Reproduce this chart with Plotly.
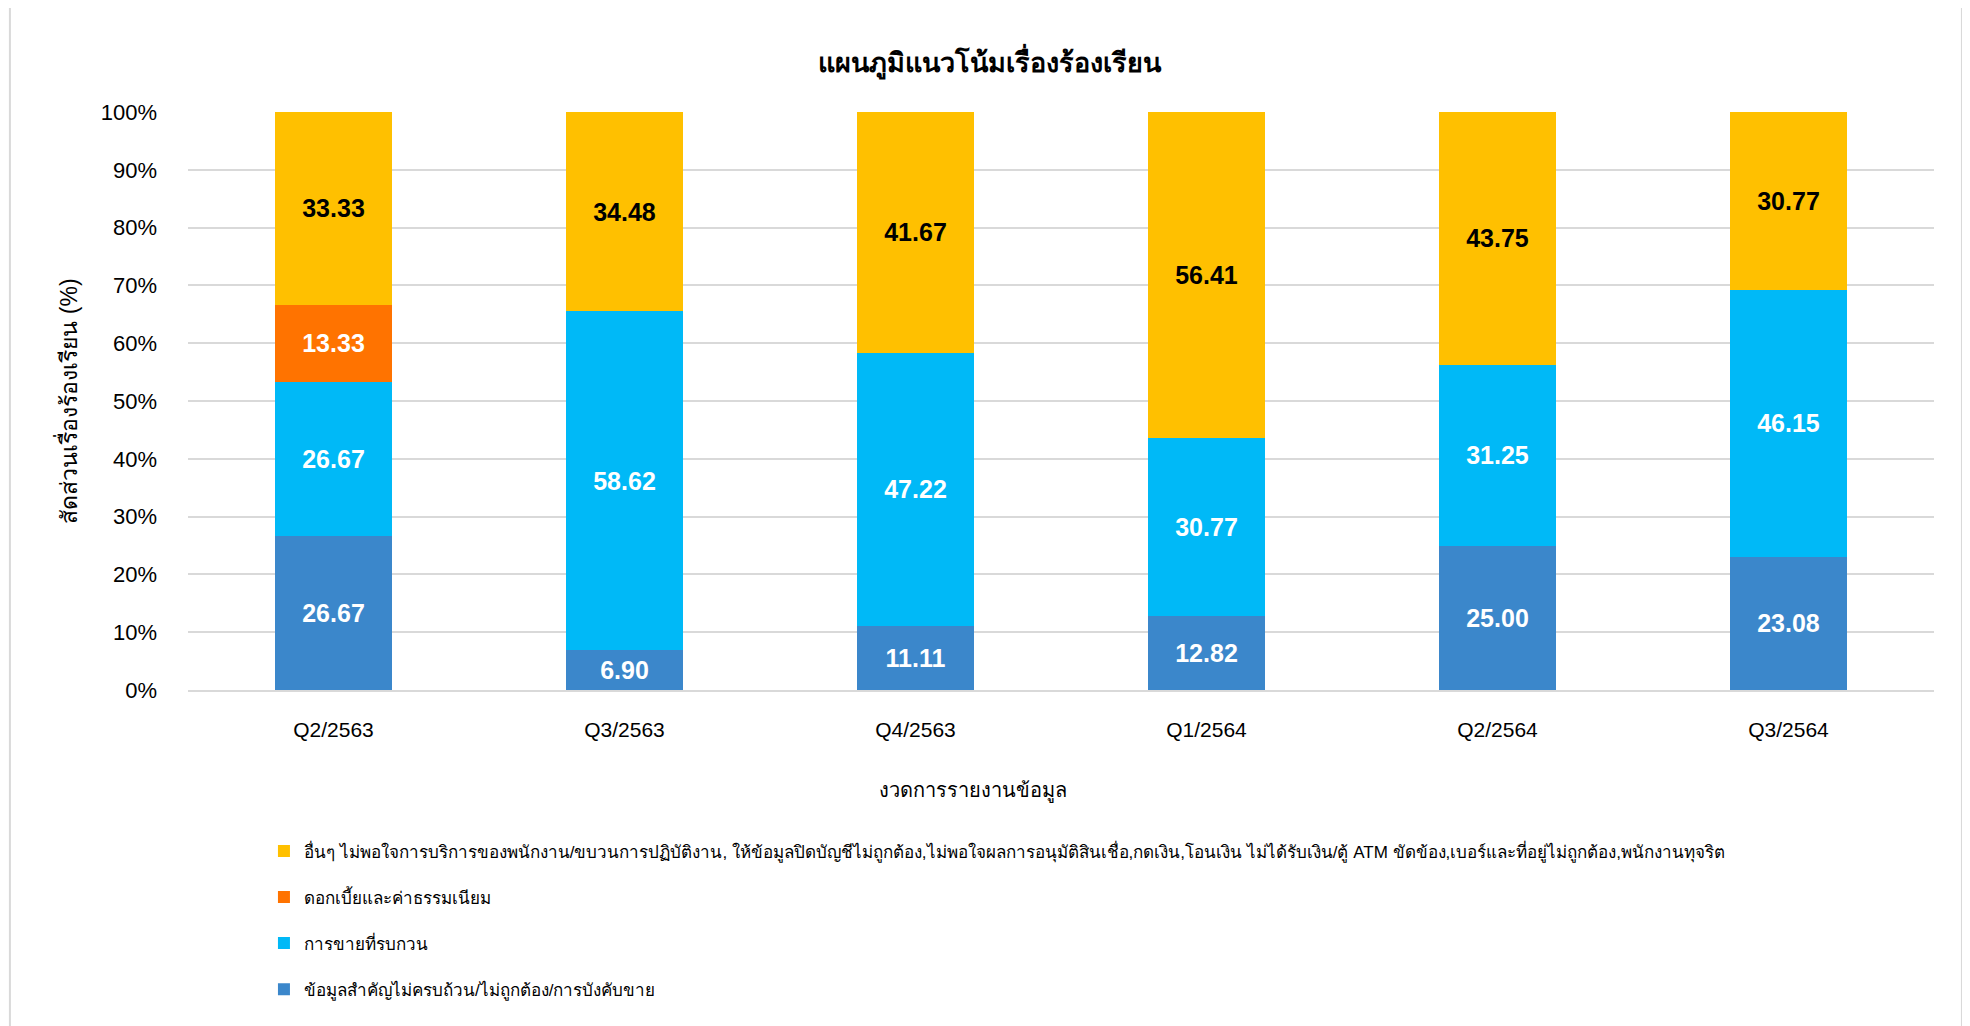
import plotly.graph_objects as go

# periods on the x axis
quarters = ["Q2/2563", "Q3/2563", "Q4/2563", "Q1/2564", "Q2/2564", "Q3/2564"]

# share of complaints (%) per category, bottom to top of each stack
info_missing = [26.67, 6.90, 11.11, 12.82, 25.00, 23.08]
disturbing_sales = [26.67, 58.62, 47.22, 30.77, 31.25, 46.15]
interest_fees = [13.33, None, None, None, None, None]
others = [33.33, 34.48, 41.67, 56.41, 43.75, 30.77]

names = [
    "ข้อมูลสำคัญไม่ครบถ้วน/ไม่ถูกต้อง/การบังคับขาย",
    "การขายที่รบกวน",
    "ดอกเบี้ยและค่าธรรมเนียม",
    "อื่นๆ ไม่พอใจการบริการของพนักงาน/ขบวนการปฏิบัติงาน, ให้ข้อมูลปิดบัญชีไม่ถูกต้อง,ไม่พอใจผลการอนุมัติสินเชื่อ,กดเงิน,โอนเงิน ไม่ได้รับเงิน/ตู้ ATM ขัดข้อง,เบอร์และที่อยู่ไม่ถูกต้อง,พนักงานทุจริต",
]
series = [info_missing, disturbing_sales, interest_fees, others]
colors = ["#3B87CB", "#00B9F7", "#FF7300", "#FFC000"]
label_colors = ["white", "white", "white", "black"]

FONT = "Liberation Sans, Noto Sans, sans-serif"

fig = go.Figure()
for i, (name, vals, col, lcol) in enumerate(zip(names, series, colors, label_colors)):
    fig.add_trace(go.Bar(
        name=name,
        x=quarters,
        y=vals,
        marker=dict(color=col, line=dict(width=0)),
        texttemplate="<b>%{y:.2f}</b>",
        textposition="inside",
        insidetextanchor="middle",
        constraintext="none",
        textfont=dict(size=25, color=lcol, family=FONT),
        legendgroup=name,
        legendrank=len(names) - i,  # top of the stack first in the legend
    ))

# the page body has an 8px margin, so the figure is 8px smaller than the window
fig.update_layout(
    barmode="stack",
    bargap=0.598,
    width=1962,
    height=1018,
    plot_bgcolor="white",
    paper_bgcolor="white",
    font=dict(family=FONT, color="black"),
    title=dict(
        text="<b>แผนภูมิแนวโน้มเรื่องร้องเรียน</b>",
        x=0.5, xanchor="center",
        y=1 - 55 / 1018, yanchor="middle",
        font=dict(size=27, color="black"),
    ),
    margin=dict(l=180, r=36, t=104, b=336),
    legend=dict(
        x=0.0435, xanchor="left",
        y=-0.248, yanchor="top",
        traceorder="grouped",
        font=dict(size=17),
        tracegroupgap=21,
        itemwidth=30,
    ),
    showlegend=True,
)

fig.update_yaxes(
    range=[0, 100],
    dtick=10,
    ticksuffix="%",
    showgrid=True,
    gridcolor="#D9D9D9",
    gridwidth=2,
    zeroline=False,
    tickfont=dict(size=22),
    ticklabelstandoff=30,
    title=dict(text="สัดส่วนเรื่องร้องเรียน (%)", font=dict(size=23), standoff=16),
)
fig.update_xaxes(
    showline=True,
    linecolor="#D9D9D9",
    linewidth=2,
    tickfont=dict(size=21),
    ticklabelstandoff=20,
)

# x axis title sits a little left of the plot centre, like in the original
fig.add_annotation(
    text="งวดการรายงานข้อมูล",
    xref="paper", yref="paper",
    x=0.4497, y=-0.175,
    xanchor="center", yanchor="middle",
    showarrow=False,
    font=dict(size=20),
)

# outer frame of the chart area
fig.add_shape(
    type="rect", xref="paper", yref="paper",
    x0=-0.102, x1=1.016, y0=-0.6, y1=1.187,
    line=dict(color="#D9D9D9", width=2),
    fillcolor="rgba(0,0,0,0)",
    layer="below",
)

fig.write_html("out.html")
